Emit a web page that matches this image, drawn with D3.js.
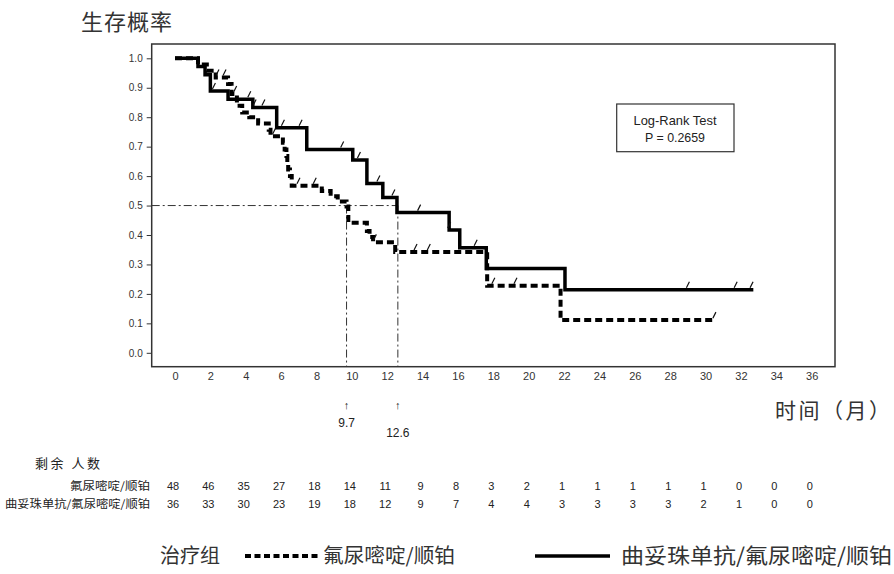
<!DOCTYPE html>
<html lang="zh">
<head>
  <meta charset="UTF-8">
  <title>生存概率</title>
  <script src="https://d3js.org/d3.v7.min.js"></script>
  <style>
    body { margin: 0; background: #fff; }
    svg { display: block; font-family: "Liberation Sans", "DejaVu Sans", sans-serif; }
    .cjk { font-family: "Noto Sans CJK SC", sans-serif; }
  </style>
</head>
<body>
  <div id="chart"></div>
  <script>
    // 曲妥珠单抗/氟尿嘧啶/顺铂 (实线)
    const solidTimes = [0, 1.3, 1.7, 2.0, 3.0, 4.4, 5.75, 7.45, 10.05, 10.85, 11.75, 12.55, 15.5, 16.1, 17.6, 22.05, 32.7];
    const solidSurv  = [1.0, 0.972, 0.944, 0.889, 0.861, 0.833, 0.764, 0.690, 0.655, 0.575, 0.527, 0.476, 0.417, 0.357, 0.286, 0.214, 0.214];
    const solidCensor = [2.2, 4.2, 4.5, 5.0, 6.1, 7.1, 9.45, 10.4, 11.5, 12.35, 13.8, 15.5, 17.0, 29.0, 31.7, 32.6];

    // 氟尿嘧啶/顺铂 (虚线)
    const dashTimes = [0, 1.3, 1.8, 2.3, 3.0, 3.2, 3.5, 3.8, 4.2, 4.7, 5.3, 5.4, 6.1, 6.2, 6.3, 6.35, 6.4, 6.5, 6.6, 8.3, 8.8, 9.2, 9.7, 9.8, 10.85, 11.0, 11.2, 12.45, 17.65, 21.8, 30.5];
    const dashSurv  = [1.0, 0.979, 0.958, 0.935, 0.913, 0.879, 0.839, 0.816, 0.800, 0.779, 0.757, 0.735, 0.713, 0.690, 0.668, 0.645, 0.622, 0.600, 0.567, 0.549, 0.532, 0.514, 0.497, 0.442, 0.414, 0.393, 0.375, 0.342, 0.228, 0.111, 0.111];
    const dashCensor = [2.4, 2.8, 3.4, 5.6, 6.98, 7.9, 11.3, 13.6, 14.35, 18.0, 19.25, 30.5];

    const medians = [9.7, 12.6];
    const medianLabels = ["9.7", "12.6"];

    const riskTimes = d3.range(0, 37, 2);
    const riskDash  = [48, 46, 35, 27, 18, 14, 11, 9, 8, 3, 2, 1, 1, 1, 1, 1, 0, 0, 0];
    const riskSolid = [36, 33, 30, 23, 19, 18, 12, 9, 7, 4, 4, 3, 3, 3, 3, 2, 1, 0, 0];

    const width = 894, height = 574;
    const svg = d3.select("#chart").append("svg")
      .attr("width", width).attr("height", height);

    const x = d3.scaleLinear().domain([0, 36]).range([175, 811.7]);
    const y = d3.scaleLinear().domain([0, 1]).range([352.8, 58.3]);
    const frame = { left: 151.7, top: 44, right: 835, bottom: 366.7 };

    // 边框
    svg.append("rect")
      .attr("x", frame.left).attr("y", frame.top)
      .attr("width", frame.right - frame.left).attr("height", frame.bottom - frame.top)
      .attr("fill", "none").attr("stroke", "#333").attr("stroke-width", 1.5);

    // 坐标轴
    const yAxis = svg.append("g")
      .attr("transform", `translate(${frame.left},0)`)
      .call(d3.axisLeft(y).tickValues(d3.range(0, 1.01, 0.1)).tickFormat(d3.format(".1f")).tickSize(5).tickPadding(4));
    yAxis.select(".domain").remove();
    yAxis.selectAll("line").attr("stroke", "#333");
    yAxis.selectAll("text").attr("font-size", 10).attr("fill", "#333");

    const xAxis = svg.append("g")
      .attr("transform", `translate(0,${frame.bottom})`)
      .call(d3.axisBottom(x).tickValues(riskTimes).tickSize(0).tickPadding(6));
    xAxis.select(".domain").remove();
    xAxis.selectAll("text").attr("font-size", 11).attr("fill", "#333");

    // 中位生存线
    svg.append("line")
      .attr("x1", frame.left).attr("x2", x(medians[1]))
      .attr("y1", y(0.5)).attr("y2", y(0.5))
      .attr("stroke", "#333").attr("stroke-width", 1).attr("stroke-dasharray", "8,3,2,3");
    svg.selectAll(".med")
      .data(medians).enter().append("line")
      .attr("x1", d => x(d)).attr("x2", d => x(d))
      .attr("y1", y(0.5)).attr("y2", frame.bottom)
      .attr("stroke", "#333").attr("stroke-width", 1).attr("stroke-dasharray", "8,3,2,3");

    const stepLine = d3.line()
      .x(d => x(d[0])).y(d => y(d[1]))
      .curve(d3.curveStepAfter);

    const dashPts = d3.zip(dashTimes, dashSurv);
    const solidPts = d3.zip(solidTimes, solidSurv);

    svg.append("path")
      .attr("d", stepLine(dashPts))
      .attr("fill", "none").attr("stroke", "#000")
      .attr("stroke-width", 4).attr("stroke-dasharray", "7,4");

    svg.append("path")
      .attr("d", stepLine(solidPts))
      .attr("fill", "none").attr("stroke", "#000")
      .attr("stroke-width", 3.5);

    // 删失标记
    const survAt = (times, surv, t) => surv[d3.bisectRight(times, t) - 1];
    const censorMark = (times, surv, cens) => {
      svg.selectAll(null)
        .data(cens).enter().append("line")
        .attr("x1", d => x(d) - 1.5).attr("y1", d => y(survAt(times, surv, d)) - 2)
        .attr("x2", d => x(d) + 1.5).attr("y2", d => y(survAt(times, surv, d)) - 8)
        .attr("stroke", "#111").attr("stroke-width", 1.2);
    };
    censorMark(solidTimes, solidSurv, solidCensor);
    censorMark(dashTimes, dashSurv, dashCensor);

    // Log-Rank 框
    svg.append("rect")
      .attr("x", 616.7).attr("y", 104).attr("width", 117.3).attr("height", 47.7)
      .attr("fill", "#fff").attr("stroke", "#333").attr("stroke-width", 1.2);
    svg.append("text").attr("x", 675).attr("y", 125).attr("text-anchor", "middle")
      .attr("font-size", 13).attr("fill", "#222")
      .attr("textLength", 83).attr("lengthAdjust", "spacingAndGlyphs").text("Log-Rank Test");
    svg.append("text").attr("x", 675).attr("y", 142).attr("text-anchor", "middle")
      .attr("font-size", 13).attr("fill", "#222")
      .attr("textLength", 60).attr("lengthAdjust", "spacingAndGlyphs").text("P = 0.2659");

    // 中位值标注
    svg.selectAll(".medArrow")
      .data(medians).enter().append("text")
      .attr("x", d => x(d)).attr("y", 409).attr("text-anchor", "middle")
      .attr("font-size", 11).attr("font-weight", "bold").attr("fill", "#222").text("↑");
    svg.selectAll(".medLab")
      .data(medians).enter().append("text")
      .attr("x", d => x(d)).attr("y", (d, i) => i === 0 ? 427 : 437).attr("text-anchor", "middle")
      .attr("font-size", 12).attr("fill", "#222").text((d, i) => medianLabels[i]);

    // 标题
    svg.append("text").attr("class", "cjk").attr("x", 81).attr("y", 30)
      .attr("font-size", 22).attr("fill", "#333")
      .attr("textLength", 91).attr("lengthAdjust", "spacing").text("生存概率");
    svg.append("text").attr("class", "cjk").attr("x", 775).attr("y", 418)
      .attr("font-size", 21).attr("fill", "#333")
      .attr("textLength", 115).attr("lengthAdjust", "spacing").text("时间（月）");

    // 剩余人数
    svg.append("text").attr("class", "cjk").attr("x", 35).attr("y", 468)
      .attr("font-size", 13).attr("fill", "#222")
      .attr("textLength", 65).attr("lengthAdjust", "spacing").text("剩余 人数");
    svg.append("text").attr("class", "cjk").attr("x", 70).attr("y", 490)
      .attr("font-size", 11).attr("fill", "#222")
      .attr("textLength", 80).attr("lengthAdjust", "spacingAndGlyphs").text("氟尿嘧啶/顺铂");
    svg.append("text").attr("class", "cjk").attr("x", 5).attr("y", 508)
      .attr("font-size", 11).attr("fill", "#222")
      .attr("textLength", 145).attr("lengthAdjust", "spacingAndGlyphs").text("曲妥珠单抗/氟尿嘧啶/顺铂");

    const riskRow = (vals, yy) => {
      svg.selectAll(null)
        .data(vals).enter().append("text")
        .attr("x", (d, i) => x(riskTimes[i]) - 2).attr("y", yy).attr("text-anchor", "middle")
        .attr("font-size", 11).attr("fill", "#222").text(d => d);
    };
    riskRow(riskDash, 490);
    riskRow(riskSolid, 508);

    // 图例
    svg.append("text").attr("class", "cjk").attr("x", 160).attr("y", 563)
      .attr("font-size", 20).attr("fill", "#333")
      .attr("textLength", 60).attr("lengthAdjust", "spacingAndGlyphs").text("治疗组");
    svg.append("line").attr("x1", 245).attr("x2", 320).attr("y1", 556).attr("y2", 556)
      .attr("stroke", "#000").attr("stroke-width", 4).attr("stroke-dasharray", "6,3.5");
    svg.append("text").attr("class", "cjk").attr("x", 323).attr("y", 563)
      .attr("font-size", 20).attr("fill", "#333")
      .attr("textLength", 132).attr("lengthAdjust", "spacingAndGlyphs").text("氟尿嘧啶/顺铂");
    svg.append("line").attr("x1", 535).attr("x2", 610).attr("y1", 556).attr("y2", 556)
      .attr("stroke", "#000").attr("stroke-width", 3.5);
    svg.append("text").attr("class", "cjk").attr("x", 621).attr("y", 563)
      .attr("font-size", 21).attr("fill", "#333")
      .attr("textLength", 271).attr("lengthAdjust", "spacingAndGlyphs").text("曲妥珠单抗/氟尿嘧啶/顺铂");
  </script>
</body>
</html>
